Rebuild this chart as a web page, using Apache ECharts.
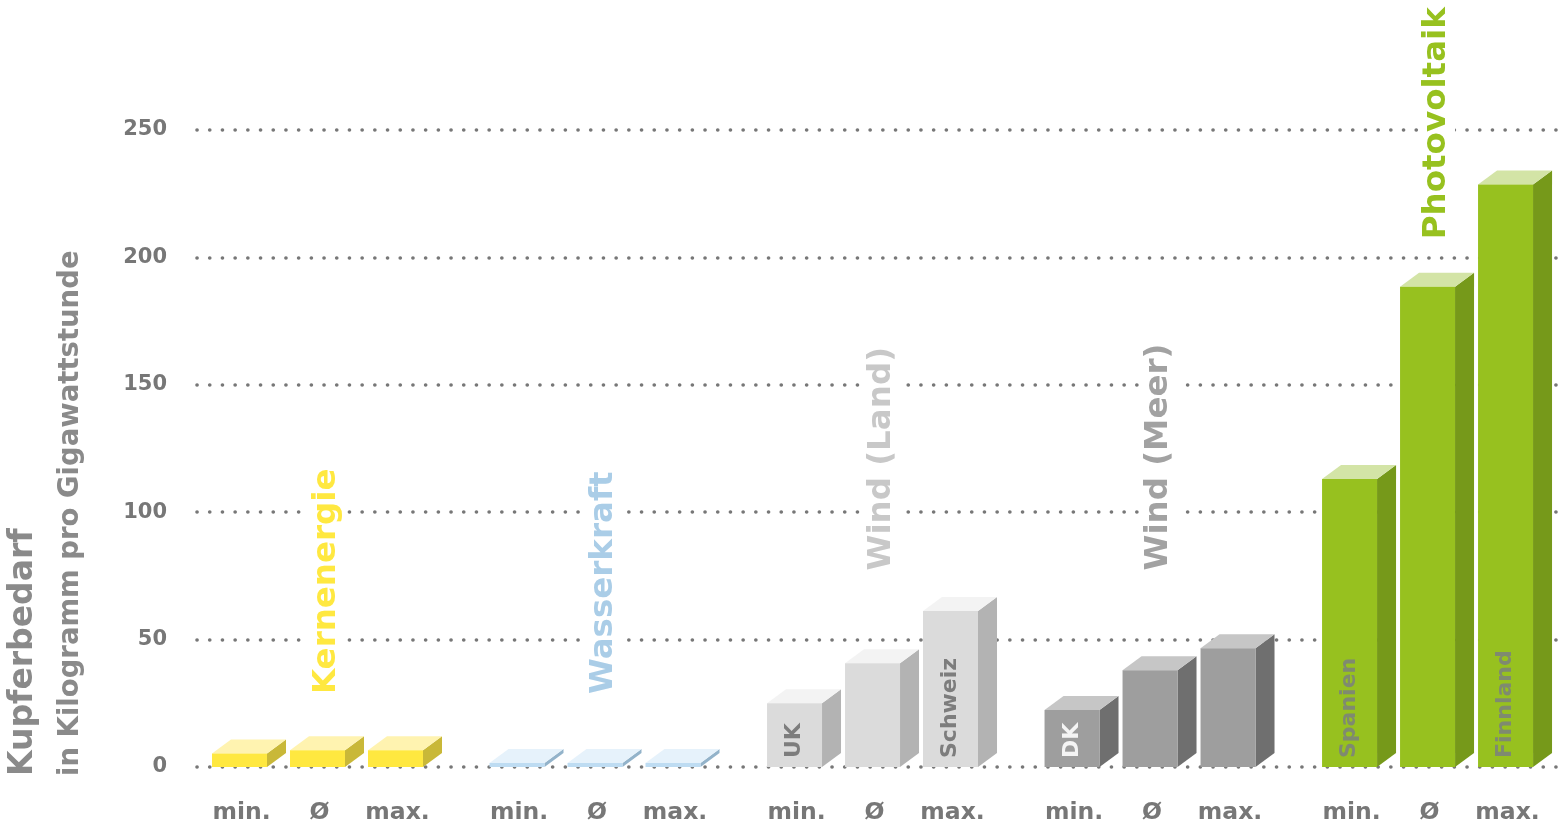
<!DOCTYPE html>
<html>
<head>
<meta charset="utf-8">
<script src="https://cdn.jsdelivr.net/npm/echarts@6/dist/echarts.min.js"></script>
<style>
  html, body { margin: 0; padding: 0; background: #fff; }
  #chart { width: 1567px; height: 830px; }
</style>
</head>
<body>
<div id="chart"></div>
<script>
// ---------- data ----------
const groups = ['Kernenergie', 'Wasserkraft', 'Wind (Land)', 'Wind (Meer)', 'Photovoltaik'];
const statLabels = ['min.', 'Ø', 'max.'];
const kernenergie = [5.3, 6.6, 6.6];
const wasserkraft = [1.6, 1.6, 1.6];
const windLand = [25, 40.7, 61.2];
const windMeer = [22.4, 38, 46.6];
const photovoltaik = [113, 188.5, 228.6];
const seriesValues = [kernenergie, wasserkraft, windLand, windMeer, photovoltaik];
const barNotes = [
  ['', '', ''],
  ['', '', ''],
  ['UK', '', 'Schweiz'],
  ['DK', '', ''],
  ['Spanien', '', 'Finnland']
];
const yTicks = [0, 50, 100, 150, 200, 250];
const yTitle = 'Kupferbedarf';
const ySubtitle = 'in Kilogramm pro Gigawattstunde';

// ---------- styles ----------
const groupStyles = [
  { front: '#FFE840', top: '#FFF3B0', side: '#C9B838', title: '#FFE840', note: '#7a7a7a', titleAt: 25.5 },
  { front: '#BEDCF2', top: '#E6F2FB', side: '#93B3CA', title: '#AACDE7', note: '#7a7a7a', titleAt: 25.5 },
  { front: '#DBDBDB', top: '#F3F3F3', side: '#B3B3B3', title: '#C8C8C8', note: '#7d7d7d', titleAt: 74 },
  { front: '#9E9E9E', top: '#C6C6C6', side: '#6F6F6F', title: '#A2A2A2', note: '#F4F4F4', titleAt: 74 },
  { front: '#97C11F', top: '#D3E4A6', side: '#76991A', title: '#97C11F', note: '#7f8a70', titleAt: 204 }
];
const GROUP_STEP = 3.558;   // distance between groups, in bar slots
const BAR_W = 0.705;        // front face width, fraction of a slot
const DEPTH_X = 19, DEPTH_Y = 14;
const FONT = '"DejaVu Sans", sans-serif';
const GREY = '#777777';

const chart = echarts.init(document.getElementById('chart'));

function makeRender(g) {
  const st = groupStyles[g];
  return function (params, api) {
    const i = params.dataIndex;
    const x = api.value(0), v = api.value(1);
    const top = api.coord([x, v]);
    const base = api.coord([x, 0]);
    const unit = api.size([1, 0])[0];
    const w = unit * BAR_W;
    const xl = top[0] - w / 2, xr = top[0] + w / 2;
    const yt = top[1], yb = base[1];
    const children = [
      { type: 'polygon', shape: { points: [[xr, yt], [xr + DEPTH_X, yt - DEPTH_Y], [xr + DEPTH_X, yb - DEPTH_Y], [xr, yb]] }, style: { fill: st.side } },
      { type: 'polygon', shape: { points: [[xl, yt], [xr, yt], [xr + DEPTH_X, yt - DEPTH_Y], [xl + DEPTH_X, yt - DEPTH_Y]] }, style: { fill: st.top } },
      { type: 'rect', shape: { x: xl, y: yt, width: w, height: yb - yt }, style: { fill: st.front } },
      { type: 'text', x: top[0] + 2, y: yb + 46, style: { text: statLabels[i], fill: GREY, font: 'bold 23.5px ' + FONT, align: 'center', verticalAlign: 'middle' } }
    ];
    const note = barNotes[g][i];
    if (note) {
      children.push({ type: 'text', x: top[0], y: yb - 9, rotation: Math.PI / 2,
        style: { text: note, fill: st.note, font: 'bold 22px ' + FONT, align: 'left', verticalAlign: 'middle' } });
    }
    if (i === 1) {
      const tp = api.coord([x, st.titleAt]);
      children.push({ type: 'text', x: top[0] + 9, y: tp[1], rotation: Math.PI / 2,
        style: { text: groups[g], fill: st.title, font: 'bold 32.5px ' + FONT, align: 'left', verticalAlign: 'middle',
          backgroundColor: '#ffffff', padding: [2, 8, 2, 8] } });
    }
    return { type: 'group', children: children };
  };
}

const series = groups.map(function (name, g) {
  return {
    type: 'custom',
    name: name,
    clip: false,
    renderItem: makeRender(g),
    encode: { x: 0, y: 1 },
    data: seriesValues[g].map(function (val, i) { return [g * GROUP_STEP + i, val]; })
  };
});

chart.setOption({
  animation: false,
  backgroundColor: '#ffffff',
  grid: { left: 197, right: 0, top: 130, bottom: 63, containLabel: false },
  xAxis: { type: 'value', min: -0.545, max: 17.02, show: false },
  yAxis: {
    type: 'value', min: yTicks[0], max: yTicks[yTicks.length - 1], interval: 50,
    axisLine: { show: false }, axisTick: { show: false },
    axisLabel: { color: GREY, fontFamily: FONT, fontWeight: 'bold', fontSize: 21, margin: 30 },
    splitLine: { show: true, lineStyle: { color: '#777777', width: 3.6, type: [0.1, 12.6], cap: 'round' } }
  },
  graphic: [
    { type: 'text', x: 23, y: 776, rotation: Math.PI / 2,
      style: { text: yTitle, fill: '#8a8a8a', font: 'bold 33px ' + FONT, align: 'left', verticalAlign: 'middle' } },
    { type: 'text', x: 71, y: 776, rotation: Math.PI / 2,
      style: { text: ySubtitle, fill: '#8a8a8a', font: 'bold 27.5px ' + FONT, align: 'left', verticalAlign: 'middle' } }
  ],
  series: series
});
</script>
</body>
</html>
